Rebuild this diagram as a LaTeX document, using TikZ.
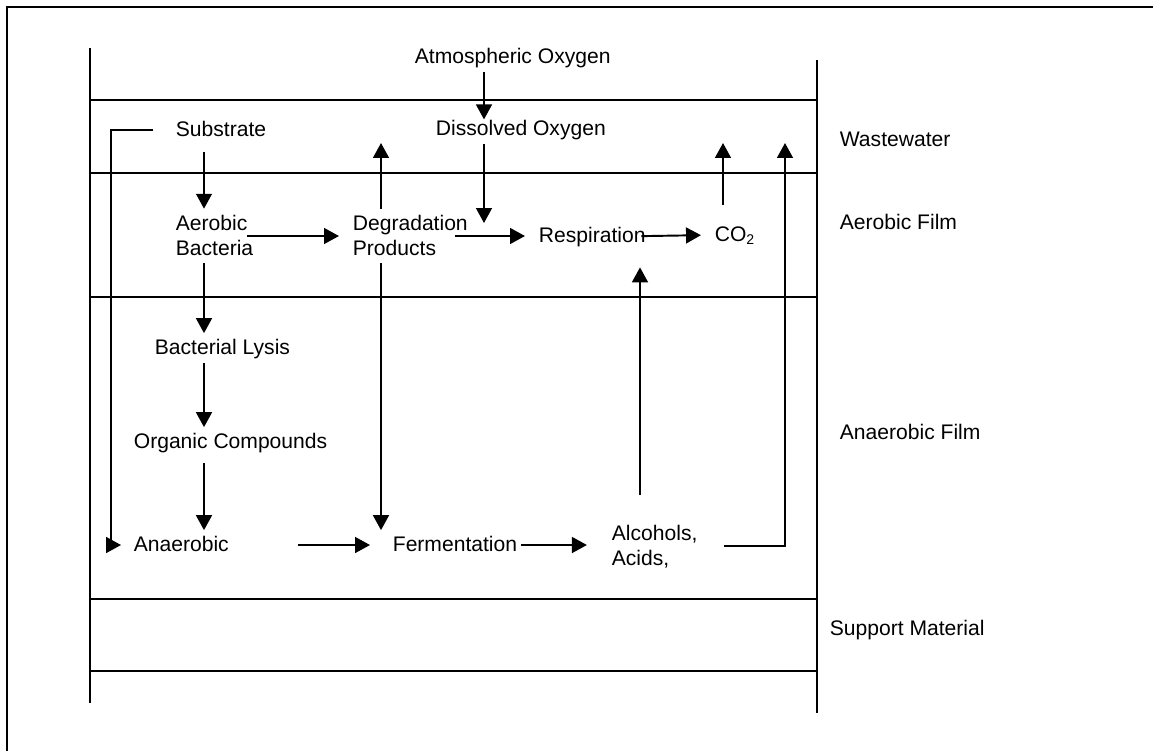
\documentclass[tikz,border=0pt]{standalone}
\usepackage{fontspec}
\setmainfont{Liberation Sans}
\usetikzlibrary{arrows.meta}

\begin{document}
\begin{tikzpicture}[x=0.02cm, y=-0.02cm,
        txt/.style={anchor=west, inner sep=2pt, align=left, font=\fontsize{12}{14.2}\selectfont, text height=10pt, text depth=2.5pt},
        txttwo/.style={txt, text height=24.2pt},
        arr/.style={line width=1.1pt, -{Triangle[length=8.5pt,width=9pt]}},
        layer/.style={line width=1.1pt}]

    \useasboundingbox (0,0) rectangle (1153,751);

    %Frame
    \draw[layer] (7,751) -- (7,7) -- (1153,7);

    %Layers
    \draw[layer] (90,48) -- (90,703);
    \draw[layer] (817,60) -- (817,713);
    \foreach \y in {100,173,297,599,671}
    \draw[layer] (90,\y) -- (817,\y);

    %Layer labels
    \foreach \y/\id/\name in {140/wastewater/Wastewater, 223/aerfilm/Aerobic Film, 433/anfilm/Anaerobic Film}
    \node[txt] (\id) at (836,\y) {\name};
    \node[txt] (support) at (826,629) {Support Material};

    %Process nodes
    \node[txt] (atm) at (411,57) {Atmospheric Oxygen};
    \node[txt] (diss) at (432,129) {Dissolved Oxygen};
    \node[txt] (subs) at (172,130) {Substrate};
    \node[txttwo] (aer) at (172,236) {Aerobic\\Bacteria};
    \node[txttwo] (degr) at (349,236) {Degradation\\Products};
    \node[txt] (resp) at (535,236) {Respiration};
    \node[txt] (co2) at (711,235) {CO\textsubscript{2}};
    \node[txt] (lysis) at (151,348) {Bacterial Lysis};
    \node[txt] (org) at (130,442) {Organic Compounds};
    \node[txt] (anaer) at (130,545) {Anaerobic};
    \node[txt] (ferm) at (389,545) {Fermentation};
    \node[txttwo] (alc) at (608,546) {Alcohols,\\Acids,};

    %Columns and free ends
    \coordinate (lcol) at (204,0);
    \coordinate (oxcol) at (484,0);
    \coordinate (dcol) at (381,0);
    \coordinate (rcol) at (640,0);
    \coordinate (lrail) at (111,0);
    \coordinate (oxin) at (484,223);
    \coordinate (dout) at (381,143);
    \coordinate (cout) at (723,143);
    \coordinate (eout) at (785,143);

    %Oxygen
    \draw[arr, shorten >=-3pt] (atm.south -| oxcol) -- (diss.north -| oxcol);
    \draw[arr] (diss.south -| oxcol) -- (oxin);

    %Left column
    \draw[arr, shorten <=4pt] (subs.south -| lcol) -- (aer.north -| lcol);
    \draw[arr] (aer.south -| lcol) -- (lysis.north -| lcol);
    \draw[arr] (lysis.south -| lcol) -- (org.north -| lcol);
    \draw[arr, shorten <=3.5pt] (org.south -| lcol) -- (anaer.north -| lcol);
    \draw[arr, shorten <=10.8pt, shorten >=5.1pt] (subs.west) -| (lrail |- anaer.west) -- (anaer.west);

    %Aerobic film
    \draw[arr, shorten <=-5.7pt, shorten >=5.7pt] (aer.east) -- (degr.west);
    \draw[arr, shorten <=-9.7pt, shorten >=5.7pt] (degr.east) -- (resp.west);
    \draw[arr, shorten <=-4.5pt, shorten >=5.7pt] (resp.east) -- (co2.west);
    \draw[arr] (degr.north -| dcol) -- (dout);
    \draw[arr, shorten <=8.8pt] (co2.north -| cout) -- (cout);

    %Anaerobic film
    \draw[arr] (degr.south -| dcol) -- (ferm.north -| dcol);
    \draw[arr, shorten <=37.3pt, shorten >=10.8pt] (anaer.east) -- (ferm.west);
    \draw[arr, shorten >=12pt] (ferm.east) -- (ferm.east -| alc.west);
    \draw[arr, shorten <=13.7pt, shorten >=9.4pt] (alc.north -| rcol) -- (resp.south -| rcol);
    \draw[arr, shorten <=13pt] (alc.east) -| (eout);

\end{tikzpicture}
\end{document}
